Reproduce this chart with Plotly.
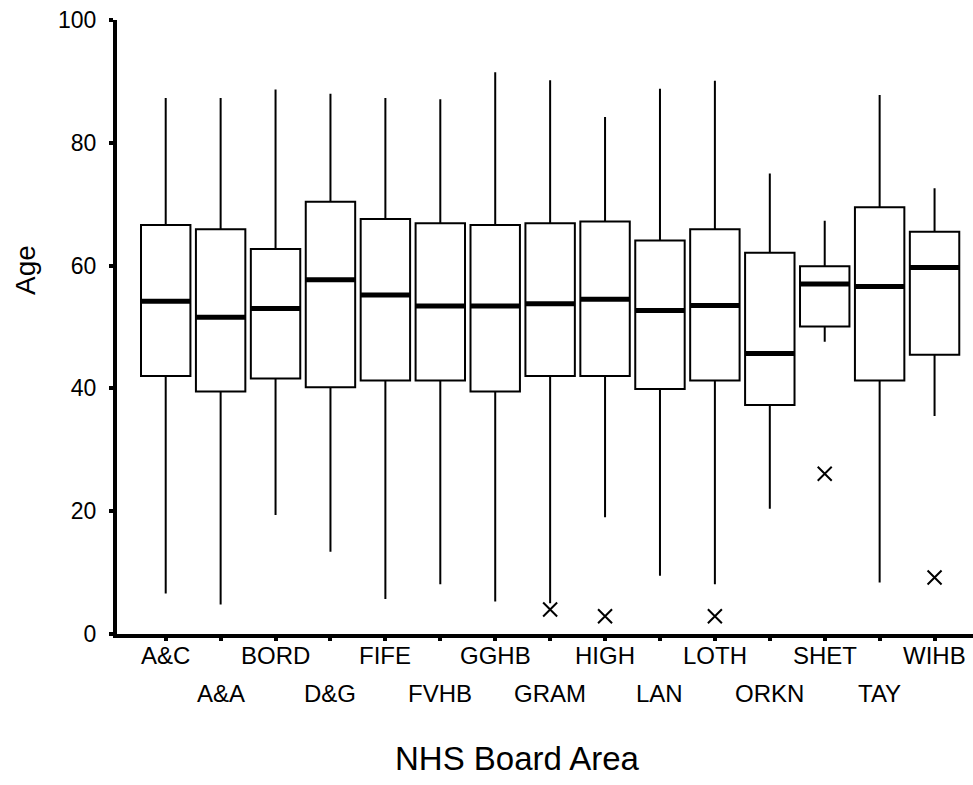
import plotly.graph_objects as go

# Age distribution by NHS Board Area
boards = ["A&C", "A&A", "BORD", "D&G", "FIFE", "FVHB", "GGHB", "GRAM",
          "HIGH", "LAN", "LOTH", "ORKN", "SHET", "TAY", "WIHB"]
upper = [87.3, 87.3, 88.7, 88.0, 87.3, 87.1, 91.5, 90.2, 84.2, 88.8, 90.1, 75.0, 67.3, 87.8, 72.6]
q3 = [66.6, 65.9, 62.7, 70.4, 67.6, 66.9, 66.6, 66.9, 67.2, 64.1, 65.9, 62.1, 59.9, 69.5, 65.5]
median = [54.2, 51.6, 53.0, 57.7, 55.2, 53.4, 53.4, 53.8, 54.5, 52.7, 53.5, 45.7, 57.0, 56.6, 59.7]
q1 = [42.0, 39.5, 41.6, 40.2, 41.3, 41.3, 39.5, 42.0, 42.0, 39.9, 41.3, 37.3, 50.1, 41.3, 45.5]
lower = [6.6, 4.8, 19.4, 13.4, 5.7, 8.1, 5.3, 5.0, 19.0, 9.5, 8.1, 20.4, 47.6, 8.4, 35.5]

outlier_board = ["GRAM", "HIGH", "LOTH", "SHET", "WIHB"]
outlier_age = [4.0, 2.9, 2.9, 26.1, 9.2]

y_ticks = [0, 20, 40, 60, 80, 100]

FONT = "Liberation Sans, Arial, sans-serif"
BOX_W = 0.9

pos = list(range(len(boards)))
idx = {b: i for i, b in enumerate(boards)}

fig = go.Figure()

fig.add_trace(go.Box(
    x=pos, q1=q1, median=median, q3=q3,
    lowerfence=lower, upperfence=upper,
    width=BOX_W, whiskerwidth=0, boxpoints=False,
    fillcolor="white", line=dict(color="black", width=2),
    hoverinfo="skip", showlegend=False,
))

# thick median bars drawn over each box
mx, my = [], []
for i, m in zip(pos, median):
    mx += [i - BOX_W / 2, i + BOX_W / 2, None]
    my += [m, m, None]
fig.add_trace(go.Scatter(
    x=mx, y=my, mode="lines", line=dict(color="black", width=5),
    hoverinfo="skip", showlegend=False,
))

fig.add_trace(go.Scatter(
    x=[idx[b] for b in outlier_board], y=outlier_age, mode="markers",
    marker=dict(symbol="x-thin-open", size=14, color="black",
                line=dict(color="black", width=2)),
    hoverinfo="skip", showlegend=False,
))

# category labels staggered on two rows
for i, b in enumerate(boards):
    fig.add_annotation(
        x=i, xref="x", y=0, yref="paper", yanchor="middle",
        yshift=-21 if i % 2 == 0 else -59,
        text=b, showarrow=False,
        font=dict(family=FONT, size=24, color="black"),
    )

fig.add_annotation(
    x=0.468, xref="paper", y=0, yref="paper", yanchor="middle",
    yshift=-124, text="NHS Board Area", showarrow=False,
    font=dict(family=FONT, size=33, color="black"),
)
fig.add_annotation(
    x=0, xref="paper", xanchor="center", xshift=-91,
    y=0.593, yref="paper", yanchor="middle",
    text="Age", textangle=-90, showarrow=False,
    font=dict(family=FONT, size=28, color="black"),
)

fig.update_layout(
    width=973, height=785,
    margin=dict(l=117, r=0, t=20, b=151),
    plot_bgcolor="white", paper_bgcolor="white",
    font=dict(family=FONT, size=23, color="black"),
    xaxis=dict(
        range=[-0.887, 14.70], tickmode="array", tickvals=pos,
        ticktext=["" for _ in boards], showgrid=False, zeroline=False,
        showline=True, linecolor="black", linewidth=4,
        ticks="outside", ticklen=3, tickwidth=4, tickcolor="black",
    ),
    yaxis=dict(
        range=[0, 100], tickmode="array", tickvals=y_ticks,
        showgrid=False, zeroline=False,
        showline=True, linecolor="black", linewidth=4,
        ticks="outside", ticklen=4, tickwidth=4, tickcolor="black",
        ticklabelstandoff=8,
    ),
)

fig.write_html("out.html")
